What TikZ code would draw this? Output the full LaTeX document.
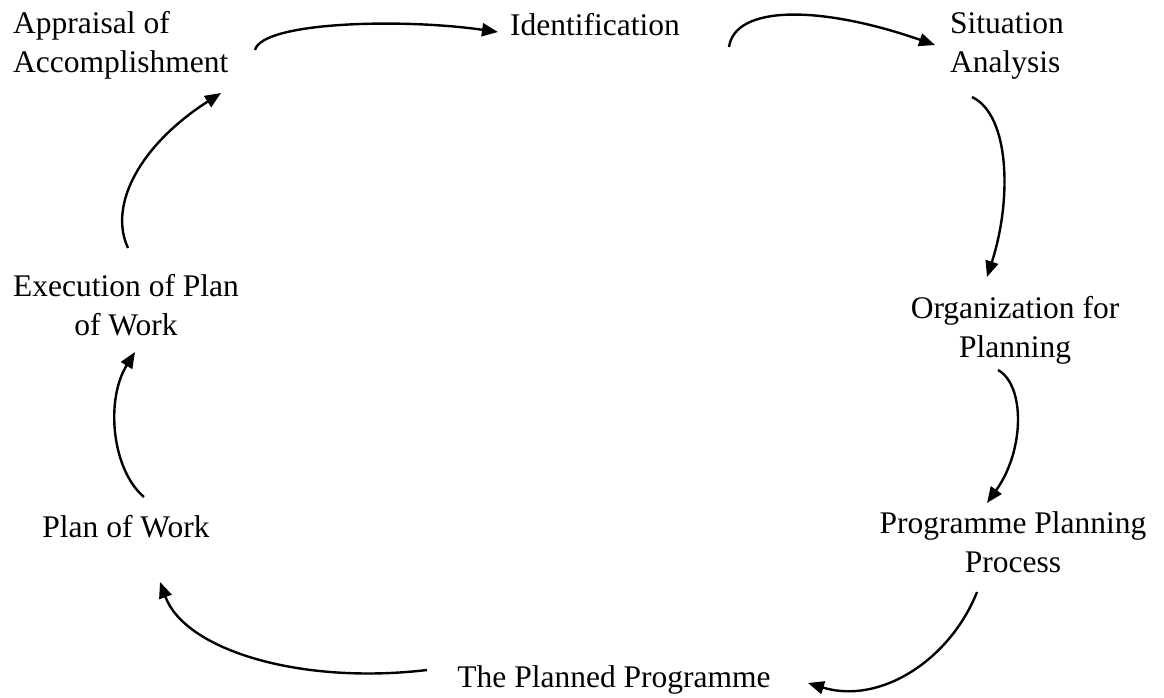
\documentclass[tikz,border=0pt]{standalone}
\usepackage{fontspec}
\setmainfont{Liberation Serif}
\usetikzlibrary{arrows.meta}
\tikzset{
  label/.style={inner sep=0pt, font=\fontsize{31.5}{38.5}\selectfont},
  flow/.style={line width=2.4pt, -{Triangle[length=16pt,width=13pt]}}
}
\begin{document}
\begin{tikzpicture}[x=1pt,y=-1pt]
\useasboundingbox (0,0) rectangle (1164,697);
% stages of the cycle (multi-line nodes are placed by their last baseline)
\node[label, anchor=base west, align=left] (appr) at (13,72) {Appraisal of\\Accomplishment};
\node[label, anchor=base west] (ident) at (510,35) {Identification};
\node[label, anchor=base west, align=left] (situ) at (950,72) {Situation\\Analysis};
\node[label, anchor=base, align=center] (org) at (1015,357) {Organization for\\Planning};
\node[label, anchor=base, align=center] (prog) at (1013,572) {Programme Planning\\Process};
\node[label, anchor=base] (planned) at (614,687) {The Planned Programme};
\node[label, anchor=base] (plan) at (126,537) {Plan of Work};
\node[label, anchor=base, align=center] (exec) at (126,335) {Execution of Plan\\of Work};
% arrow end points beside each stage
\coordinate (apprOut) at (255,50);
\coordinate (identIn) at (498,32);
\coordinate (identOut) at (729,47);
\coordinate (situIn) at (935,45);
\coordinate (situOut) at (972,97);
\coordinate (orgIn) at (987,277);
\coordinate (orgOut) at (998,370);
\coordinate (progIn) at (987,503);
\coordinate (progOut) at (977,592);
\coordinate (plannedIn) at (808,683);
\coordinate (plannedOut) at (427,670);
\coordinate (planIn) at (160,582);
\coordinate (planOut) at (144,497);
\coordinate (execIn) at (135,352);
\coordinate (execOut) at (128,248);
\coordinate (apprIn) at (221,93);
% connectors
\draw[flow] (apprOut) .. controls (262,22) and (400,18) .. (identIn);
\draw[flow] (identOut) .. controls (735,5) and (820,5) .. (situIn);
\draw[flow] (situOut) .. controls (1010,115) and (1012,200) .. (orgIn);
\draw[flow] (orgOut) .. controls (1025,385) and (1025,450) .. (progIn);
\draw[flow] (progOut) .. controls (950,660) and (880,705) .. (plannedIn);
\draw[flow] (plannedOut) .. controls (300,685) and (185,650) .. (planIn);
\draw[flow] (planOut) .. controls (112,470) and (105,400) .. (execIn);
\draw[flow] (execOut) .. controls (108,205) and (140,145) .. (apprIn);
\end{tikzpicture}
\end{document}
